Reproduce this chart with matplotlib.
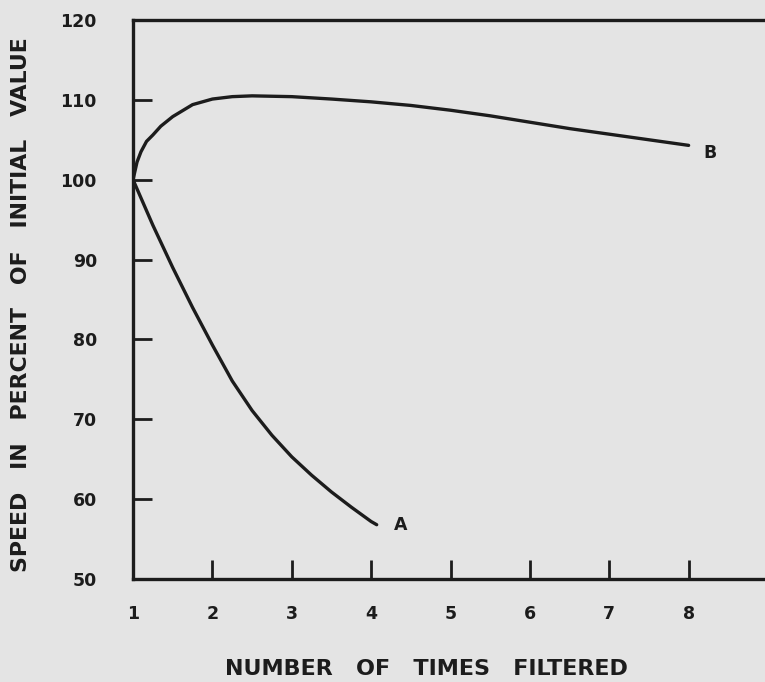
import matplotlib
matplotlib.use('Agg')
import matplotlib.pyplot as plt

# curve values
x_a = [1.0, 1.25, 1.5, 1.75, 2.0, 2.25, 2.5, 2.75, 3.0, 3.25, 3.5, 3.75, 4.0, 4.07]
speed_a = [100.0, 94.3, 89.0, 84.0, 79.3, 74.8, 71.1, 68.0, 65.3, 63.0, 60.9, 59.0, 57.2, 56.8]

x_b = [1.0, 1.05, 1.1, 1.17, 1.25, 1.35, 1.5, 1.75, 2.0, 2.25, 2.5, 3.0, 3.5, 4.0, 4.5, 5.0,
       5.5, 6.0, 6.5, 7.0, 7.5, 8.0]
speed_b = [100.0, 102.2, 103.5, 104.8, 105.6, 106.7, 107.9, 109.4, 110.1, 110.4, 110.5, 110.4,
           110.1, 109.75, 109.3, 108.7, 108.0, 107.2, 106.4, 105.7, 105.0, 104.3]

x_ticks = [1, 2, 3, 4, 5, 6, 7, 8]
y_ticks = [50, 60, 70, 80, 90, 100, 110, 120]

BG = '#e4e4e4'
INK = '#1c1c1c'

plt.rcParams.update({
    'font.family': 'DejaVu Sans',
    'font.weight': 'bold',
})

fig = plt.figure(figsize=(7.65, 6.82), dpi=100)
fig.patch.set_facecolor(BG)
ax = fig.add_axes([0.1739, 0.151, 0.83, 0.8197])
ax.set_facecolor(BG)

ax.plot(x_a, speed_a, color=INK, lw=2.4, solid_capstyle='round')
ax.plot(x_b, speed_b, color=INK, lw=2.4, solid_capstyle='round')

ax.text(4.37, 56.8, 'A', fontsize=12.5, color=INK, ha='center', va='center')
ax.text(8.27, 103.4, 'B', fontsize=12.5, color=INK, ha='center', va='center')

ax.set_xlim(1, 9)
ax.set_ylim(50, 120)
ax.set_xticks(x_ticks)
ax.set_yticks(y_ticks)
ax.set_xticklabels([str(v) for v in x_ticks])
ax.set_yticklabels([str(v) for v in y_ticks])
ax.tick_params(direction='in', length=14, width=2, color=INK, labelcolor=INK,
               labelsize=12.5)
ax.tick_params(axis='x', pad=19)
ax.tick_params(axis='y', pad=26)

for side in ['left', 'bottom', 'top']:
    ax.spines[side].set_linewidth(2.4)
    ax.spines[side].set_color(INK)
ax.spines['right'].set_visible(False)

fig.text(0.0275, 0.553, 'SPEED   IN   PERCENT   OF   INITIAL   VALUE', rotation=90,
         ha='center', va='center', fontsize=15.8, color=INK)
fig.text(0.557, 0.019, 'NUMBER   OF   TIMES   FILTERED', ha='center', va='center',
         fontsize=16, color=INK)

fig.savefig('out.png', dpi=100, facecolor=BG)
